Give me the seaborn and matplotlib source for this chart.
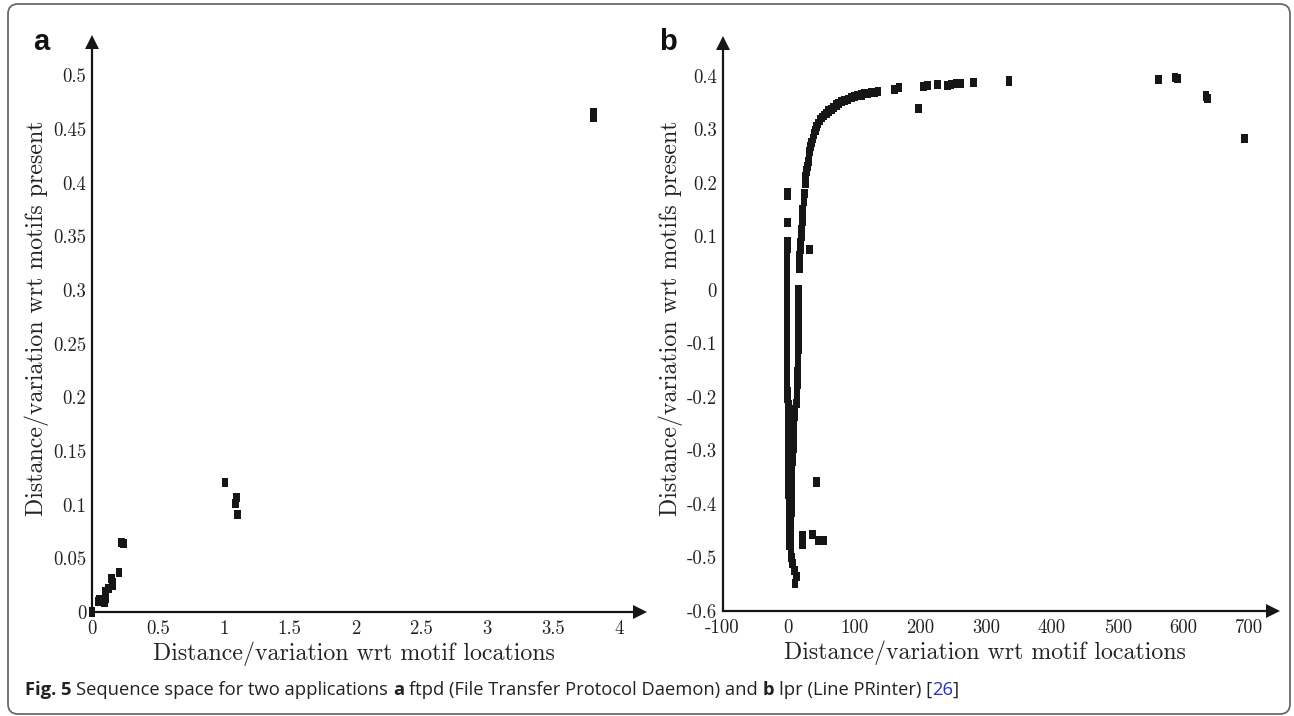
import numpy as np
import pandas as pd
import seaborn as sns
import matplotlib
matplotlib.use("Agg")
import matplotlib.pyplot as plt
from matplotlib.path import Path
from matplotlib.patches import FancyBboxPatch
from matplotlib.transforms import IdentityTransform

# ---------------- data ----------------
# panel a : ftpd
xa = [0.0, 0.045, 0.055, 0.095, 0.100, 0.100, 0.125, 0.150, 0.155, 0.160,
      0.205, 0.225, 0.240, 1.010, 1.090, 1.100, 1.105, 3.810, 3.810]
ya = [0.0, 0.010, 0.012, 0.009, 0.013, 0.019, 0.022, 0.031, 0.027, 0.025,
      0.037, 0.065, 0.064, 0.121, 0.101, 0.107, 0.091, 0.461, 0.465]

# panel b : lpr -- left dense column near x = 0
xb_left = [-1, -1, -1, -1, -1,
           -2, -2, -2, -2, -2, -2, -2, -2, -2, -2, -2, -2, -2, -2, -2, -2, -2, -2,
           -2, -2, -2, -1, -1,
           0, 0, 0, 0, 0, 0, 0, 0, 0, 0, 0, 0, 0, 0, 0, 1, 1, 1, 1, 1, 1, 1, 1]
yb_left = [0.182, 0.176, 0.125, 0.090, 0.077,
           0.062, 0.050, 0.038, 0.026, 0.014, 0.002, -0.010, -0.022, -0.034, -0.046,
           -0.058, -0.070, -0.082, -0.094, -0.106, -0.118, -0.130, -0.142, -0.154,
           -0.166, -0.178, -0.190, -0.202,
           -0.214, -0.226, -0.238, -0.250, -0.262, -0.274, -0.286, -0.298, -0.310,
           -0.322, -0.334, -0.346, -0.358, -0.370, -0.382, -0.394, -0.406, -0.418,
           -0.430, -0.442, -0.454, -0.466, -0.478]

# panel b : second column, from the bottom tip rising into the curve
xb_mid = [10, 12, 9, 6, 5, 4, 4, 4, 4, 4,
          4, 5, 5, 5, 5, 5, 5, 5, 5, 6,
          7, 8, 8, 8, 8, 8, 9, 10, 12, 13,
          13, 13.5, 14, 14, 14.5, 14.5, 15, 15, 15.5, 15.5,
          16, 16, 16, 16, 16, 17, 17, 17, 18, 19,
          19.5, 20, 21, 22, 22]
yb_mid = [-0.548, -0.536, -0.524, -0.512, -0.500, -0.488, -0.476, -0.464, -0.452, -0.440,
          -0.428, -0.416, -0.404, -0.392, -0.380, -0.368, -0.356, -0.344, -0.332, -0.320,
          -0.308, -0.296, -0.284, -0.272, -0.260, -0.248, -0.236, -0.224, -0.212, -0.200,
          -0.188, -0.176, -0.164, -0.152, -0.140, -0.126, -0.112, -0.098, -0.084, -0.070,
          -0.056, -0.042, -0.028, -0.014, 0.000, 0.040, 0.052, 0.064, 0.076, 0.088,
          0.100, 0.112, 0.128, 0.140, 0.150]

# panel b : the curve and the points on the right
xb_curve = [23.6, 24.7, 25.7, 26.5, 27.5, 28.8, 30, 31.3, 32.5, 33.8, 35.5, 37.3,
            39, 41, 43, 45, 48, 51, 54, 57.7, 61, 65.3, 69, 72.9, 76.5, 80.5, 85,
            90.5, 95.5, 100.7, 105.5, 110.8, 116, 120.9, 126, 131, 136, 161, 168,
            198, 205, 211, 226, 242, 247, 255, 262, 281, 335, 562, 587, 591, 634,
            636, 692]
yb_curve = [0.165, 0.180, 0.199, 0.212, 0.222, 0.230, 0.240, 0.249, 0.258, 0.267,
            0.275, 0.283, 0.291, 0.298, 0.305, 0.311, 0.317, 0.322, 0.326, 0.330,
            0.334, 0.337, 0.341, 0.345, 0.348, 0.351, 0.354, 0.356, 0.359, 0.361,
            0.363, 0.364, 0.366, 0.367, 0.368, 0.369, 0.370, 0.374, 0.378, 0.339,
            0.380, 0.381, 0.383, 0.381, 0.383, 0.385, 0.385, 0.387, 0.390, 0.393,
            0.397, 0.395, 0.362, 0.357, 0.282]

# panel b : isolated points
xb_iso = [32.5, 42.5, 22, 22, 36.4, 46, 53]
yb_iso = [0.075, -0.359, -0.460, -0.475, -0.457, -0.468, -0.468]

# ticks
xticks_a = [0, 0.5, 1, 1.5, 2, 2.5, 3, 3.5, 4]
xlabels_a = ["0", "0.5", "1", "1.5", "2", "2.5", "3", "3.5", "4"]
yticks_a = [0, 0.05, 0.1, 0.15, 0.2, 0.25, 0.3, 0.35, 0.4, 0.45, 0.5]
ylabels_a = ["0", "0.05", "0.1", "0.15", "0.2", "0.25", "0.3", "0.35", "0.4", "0.45", "0.5"]
xticks_b = [-100, 0, 100, 200, 300, 400, 500, 600, 700]
xlabels_b = ["-100", "0", "100", "200", "300", "400", "500", "600", "700"]
yticks_b = [-0.6, -0.5, -0.4, -0.3, -0.2, -0.1, 0, 0.1, 0.2, 0.3, 0.4]
ylabels_b = ["-0.6", "-0.5", "-0.4", "-0.3", "-0.2", "-0.1", "0", "0.1", "0.2", "0.3", "0.4"]

xlab = "Distance/variation wrt motif locations"
ylab = "Distance/variation wrt motifs present"

# ---------------- style ----------------
sns.set_theme(style="white")
plt.rcParams["font.family"] = ["cmr10", "DejaVu Serif"]
plt.rcParams["axes.unicode_minus"] = False
plt.rcParams["axes.formatter.use_mathtext"] = True

INK = "#161616"
rect = Path([(-0.37, -0.5), (0.37, -0.5), (0.37, 0.5), (-0.37, 0.5), (-0.37, -0.5)],
            [Path.MOVETO, Path.LINETO, Path.LINETO, Path.LINETO, Path.CLOSEPOLY])
MS = 44

W, H = 1294, 716
fig = plt.figure(figsize=(W / 100, H / 100), dpi=100)

def px_axes(x0, x1, ytop, ybot):
    return fig.add_axes([x0 / W, (H - ybot) / H, (x1 - x0) / W, (ybot - ytop) / H])

ax_a = px_axes(92, 640, 42, 612)
ax_b = px_axes(722.5, 1272.5, 43, 611)

df_a = pd.DataFrame({"x": xa, "y": ya})
df_b = pd.DataFrame({"x": xb_left + xb_mid + xb_curve + xb_iso,
                     "y": yb_left + yb_mid + yb_curve + yb_iso})

for ax, df, xl, yl, xt, xtl, yt, ytl in [
        (ax_a, df_a, (0, 4.16), (0, 0.531), xticks_a, xlabels_a, yticks_a, ylabels_a),
        (ax_b, df_b, (-100, 735), (-0.6, 0.461), xticks_b, xlabels_b, yticks_b, ylabels_b)]:
    sns.scatterplot(data=df, x="x", y="y", ax=ax, marker=rect, s=MS, color=INK,
                    edgecolor="none", linewidth=0, clip_on=False, zorder=3)
    ax.set_xlim(*xl)
    ax.set_ylim(*yl)
    ax.set_xticks(xt)
    ax.set_xticklabels(xtl)
    ax.set_yticks(yt)
    ax.set_yticklabels(ytl)
    for s in ["top", "right"]:
        ax.spines[s].set_visible(False)
    for s in ["left", "bottom"]:
        ax.spines[s].set_linewidth(1.6)
        ax.spines[s].set_color(INK)
    ax.tick_params(axis="both", direction="in", length=5, width=1.5, color=INK,
                   labelsize=13.5, labelcolor="#222222", pad=4)
    ax.tick_params(axis="x", pad=6)
    ax.plot(1, 0, marker=">", ms=10, color=INK, transform=ax.transAxes, clip_on=False,
            mew=0)
    ax.plot(0, 1, marker="^", ms=10, color=INK, transform=ax.transAxes, clip_on=False,
            mew=0)
    ax.set_xlabel(xlab, fontsize=17.2, color="#222222")
    ax.set_ylabel(ylab, fontsize=17.2, color="#222222")
    ax.xaxis.label.set_va("center")
    ax.yaxis.label.set_va("center")
    ax.set_facecolor("none")
    ax.grid(False)

ax_a.xaxis.set_label_coords((354 - 92) / 548, (612 - 654) / 570)
ax_a.yaxis.set_label_coords((37 - 92) / 548, (612 - 318) / 570)
ax_b.xaxis.set_label_coords((985 - 722.5) / 550, (611 - 653) / 568)
ax_b.yaxis.set_label_coords((671 - 722.5) / 550, (611 - 318) / 568)

# panel letters
fig.text(33 / W, (H - 50) / H, "a", fontsize=21, fontweight="bold",
         family=["Liberation Sans"], color="#111111", va="baseline", ha="left")
fig.text(659 / W, (H - 50) / H, "b", fontsize=21, fontweight="bold",
         family=["Liberation Sans"], color="#111111", va="baseline", ha="left")

# border
fig.add_artist(FancyBboxPatch((8, 2), 1282, 710, boxstyle="round,pad=0,rounding_size=10",
                              transform=IdentityTransform(), fill=False,
                              ec="#6a6a6a", lw=1.3))

# caption
renderer = fig.canvas.get_renderer()
cap_parts = [("Fig. 5", "bold", "#222222"),
             (" Sequence space for two applications ", "normal", "#222222"),
             ("a", "bold", "#222222"),
             (" ftpd (File Transfer Protocol Daemon) and ", "normal", "#222222"),
             ("b", "bold", "#222222"),
             (" lpr (Line PRinter) [", "normal", "#222222"),
             ("26", "normal", "#2b2bd6"),
             ("]", "normal", "#222222")]
CAP_FONT = ["Open Sans", "DejaVu Sans"]
CAP_SIZE = 13.2
probe1 = fig.text(0, 0, "x x", fontsize=CAP_SIZE, family=CAP_FONT)
probe2 = fig.text(0, 0, "xx", fontsize=CAP_SIZE, family=CAP_FONT)
space_w = (probe1.get_window_extent(renderer).width
           - probe2.get_window_extent(renderer).width)
probe1.remove()
probe2.remove()
xcur = 25.0
ybase = (H - 695) / H
for txt, wt, col in cap_parts:
    lead = len(txt) - len(txt.lstrip(" "))
    trail = len(txt) - len(txt.rstrip(" "))
    core = txt.strip(" ")
    xcur += lead * space_w
    t = fig.text(xcur / W, ybase, core, fontsize=CAP_SIZE, fontweight=wt, color=col,
                 family=CAP_FONT, va="baseline", ha="left")
    bb = t.get_window_extent(renderer)
    xcur = bb.x1 + trail * space_w

fig.savefig("out.png", dpi=100)
